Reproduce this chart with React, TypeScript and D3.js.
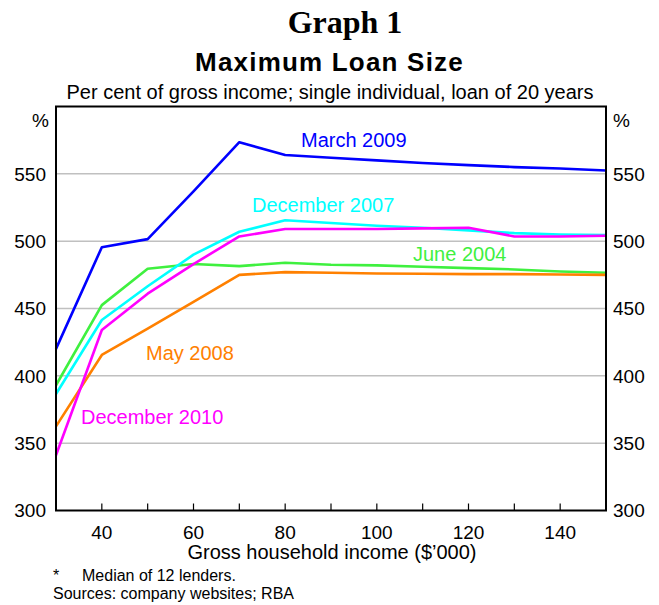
import React from "react";
import * as d3 from "d3";

const incomes = [30, 40, 50, 60, 70, 80, 90, 100, 110, 120, 130, 140, 150];
const march2009 = [420, 495.5, 501.5, 537, 573.5, 564, 562, 560, 558, 556.5, 555, 554, 552.5];
const dec2007 = [386.5, 441.5, 466.5, 490, 507, 515.5, 513.5, 511.5, 510, 508, 506, 505, 504.5];
const dec2010 = [341, 434, 461, 483, 503.5, 509, 509, 509, 509.5, 510, 503.5, 503.5, 504];
const june2004 = [393, 452.5, 479.5, 483, 481.5, 484, 482.5, 482, 481, 480, 479, 477.5, 476.5];
const may2008 = [362.5, 415.5, 435, 455, 475, 477, 476.5, 476, 475.8, 475.5, 475.5, 475.2, 475];

const yTicks = [300, 350, 400, 450, 500, 550];
const xLabelTicks = [40, 60, 80, 100, 120, 140];
const xMinorTicks = [40, 50, 60, 70, 80, 90, 100, 110, 120, 130, 140];

const series = [
  { name: "June 2004", values: june2004, color: "#3ff03f", lx: 413, ly: 261 },
  { name: "May 2008", values: may2008, color: "#ff8000", lx: 146, ly: 360 },
  { name: "December 2007", values: dec2007, color: "#00ffff", lx: 252, ly: 211.5 },
  { name: "December 2010", values: dec2010, color: "#ff00ff", lx: 81, ly: 424 },
  { name: "March 2009", values: march2009, color: "#0000ff", lx: 301, ly: 146.5 },
];

export default function App() {
  const left = 56, right = 606, top = 106.5, bottom = 510.5;
  const x = d3.scaleLinear().domain([30, 150]).range([left, right]);
  const y = d3.scaleLinear().domain([300, 600]).range([bottom, top]);
  const line = d3
    .line<number>()
    .x((_, i) => x(incomes[i]))
    .y((d) => y(d));
  const sans = "'Liberation Sans', Arial, sans-serif";
  return (
    <svg
      width={659}
      height={605}
      style={{ position: "absolute", left: 0, top: 0, background: "#fff" }}
      fontFamily={sans}
    >
      <text x={345} y={33} textAnchor="middle" fontFamily="'Liberation Serif', 'Times New Roman', serif" fontWeight="bold" fontSize={32}>
        Graph 1
      </text>
      <text x={329.5} y={71} textAnchor="middle" fontWeight="bold" fontSize={26} letterSpacing={1.2}>
        Maximum Loan Size
      </text>
      <text x={330} y={99} textAnchor="middle" fontSize={20}>
        Per cent of gross income; single individual, loan of 20 years
      </text>

      {yTicks.slice(1).map((t) => (
        <line key={"g" + t} x1={left} x2={right} y1={y(t)} y2={y(t)} stroke="#c0c0c0" strokeWidth={1.5} />
      ))}

      {xMinorTicks.map((t) => (
        <line key={"t" + t} x1={x(t)} x2={x(t)} y1={bottom} y2={bottom - 7} stroke="#000" strokeWidth={1.2} />
      ))}

      {series.map((s) => (
        <path key={s.name} d={line(s.values) || ""} fill="none" stroke={s.color} strokeWidth={2.6} strokeLinejoin="round" />
      ))}

      <rect x={left} y={top} width={right - left} height={bottom - top} fill="none" stroke="#000" strokeWidth={2} />

      {yTicks.map((t) => (
        <g key={"yl" + t} fontSize={19}>
          <text x={46} y={y(t)} dy="0.36em" textAnchor="end">{t}</text>
          <text x={613} y={y(t)} dy="0.36em" textAnchor="start">{t}</text>
        </g>
      ))}
      <text x={49} y={127} textAnchor="end" fontSize={19}>%</text>
      <text x={613} y={127} textAnchor="start" fontSize={19}>%</text>

      {xLabelTicks.map((t) => (
        <text key={"xl" + t} x={x(t)} y={539} textAnchor="middle" fontSize={19}>{t}</text>
      ))}
      <text x={332} y={558.5} textAnchor="middle" fontSize={20}>
        Gross household income ($’000)
      </text>

      {series.map((s) => (
        <text key={"lab" + s.name} x={s.lx} y={s.ly} fill={s.color} fontSize={20}>
          {s.name}
        </text>
      ))}

      <text x={53} y={581} fontSize={16}>*</text>
      <text x={82} y={581} fontSize={16}>Median of 12 lenders.</text>
      <text x={53} y={599} fontSize={16}>Sources: company websites; RBA</text>
    </svg>
  );
}
